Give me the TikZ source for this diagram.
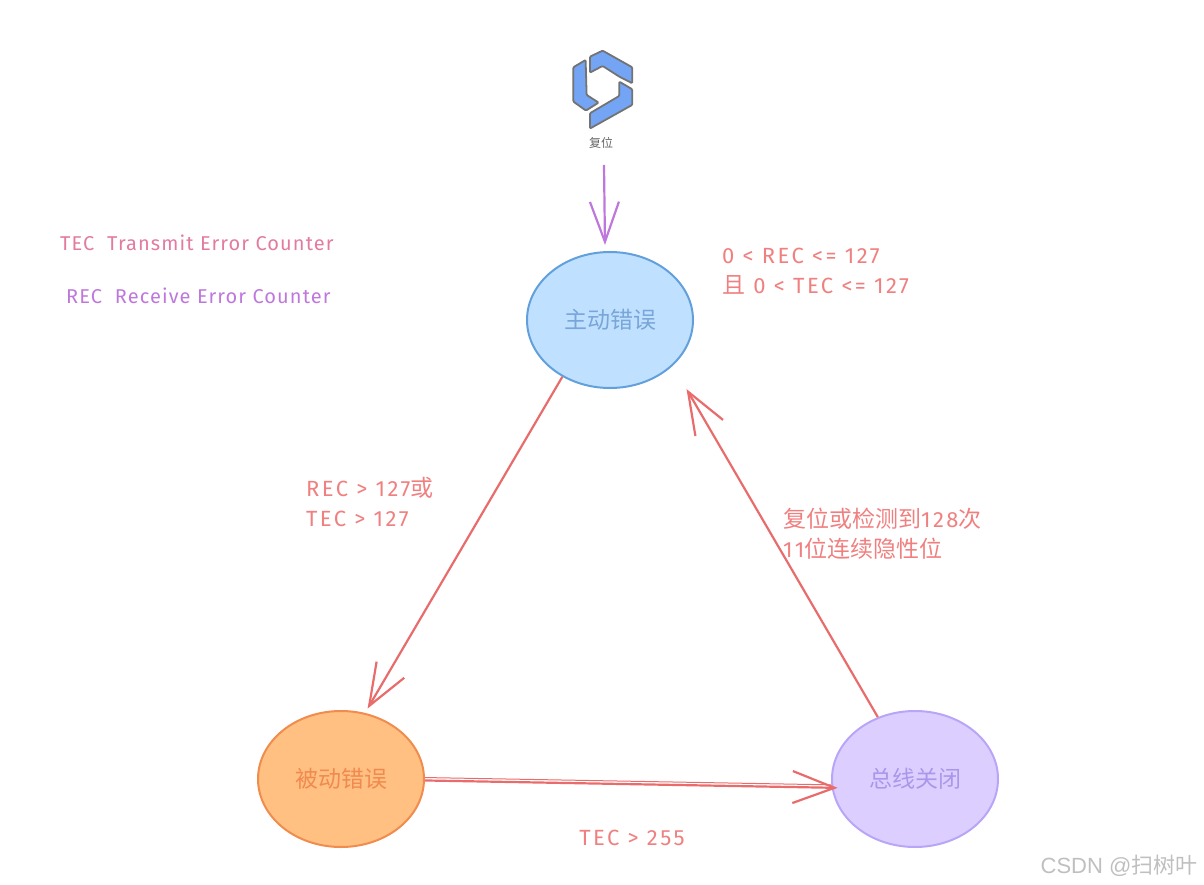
\documentclass[tikz,border=0pt]{standalone}
\usepackage{fontspec}
\usepackage{xcolor}
\setmainfont{Fira Sans}
\newfontfamily\cjk{Noto Sans CJK SC}
\newfontfamily\wmark{Liberation Sans}
\newfontfamily\hand[LetterSpace=11]{Fira Sans}
\newfontfamily\handkey[LetterSpace=5.5]{Fira Sans}
\newcommand{\zh}[1]{{\cjk\fontsize{23}{30}\selectfont #1}}
\definecolor{redline}{HTML}{E96C6C}
\definecolor{redtext}{HTML}{F08080}
\definecolor{pinktext}{HTML}{E27BA0}
\definecolor{purpleline}{HTML}{BE78DC}
\usetikzlibrary{shapes.geometric,arrows.meta}
\begin{document}
\begin{tikzpicture}[
	x=1pt, y=-1pt,
	state/.style={ ellipse, draw, line width=2pt, inner sep=0pt, minimum width=166pt, minimum height=136pt, font=\cjk\fontsize{23}{23}\selectfont },
	note/.style={ anchor=west, align=left, inner sep=0pt, text=redtext, font=\hand\fontsize{22}{30}\selectfont },
	keynote/.style={ anchor=west, inner sep=0pt, font=\handkey\fontsize{20}{20}\selectfont },
	link/.style={ redline, line width=2.2pt, -{Straight Barb[length=42pt,width=32pt,line width=2.2pt]} }
]

\path[use as bounding box] (0,0) rectangle (1204,885);

\node at (610,320) (active) [state,draw={rgb,255:red,98;green,160;blue,220},fill={rgb,255:red,192;green,224;blue,255},text={rgb,255:red,120;green,166;blue,216}] {主动错误};

\node at (341,779) (passive) [state,draw={rgb,255:red,240;green,140;blue,77},fill={rgb,255:red,255;green,192;blue,129},text={rgb,255:red,240;green,138;blue,80}] {被动错误};

\node at (915,779) (busoff) [state,draw={rgb,255:red,185;green,165;blue,247},fill={rgb,255:red,220;green,207;blue,255},text={rgb,255:red,171;green,151;blue,234}] {总线关闭};

\begin{scope}[shift={(540,30)},x=0.333pt,y=-0.333pt,draw=black!55,fill={rgb,255:red,116;green,164;blue,244},line width=1.8pt,line join=round,rounded corners=1pt]
\filldraw (137,90) -- (100,112) -- (100,215) -- (138,242) -- (176,218) -- (140,195) -- cycle;
\filldraw (150,80) -- (188,62) -- (277,112) -- (277,160) -- (238,140) -- (188,108) -- (150,128) -- cycle;
\filldraw (238,155) -- (277,178) -- (277,225) -- (150,296) -- (150,250) -- (238,198) -- cycle;
\end{scope}

\node at (601,143) (reset) [text=black!60,font=\cjk\fontsize{12}{12}\selectfont] {复位};

\coordinate (resetstart) at (604,165);
\coordinate (resettip) at (605,245);
\draw[purpleline,line width=2.2pt,-{Straight Barb[length=40pt,width=29pt,line width=2.2pt]}] (resetstart) to (resettip);

\draw[link,shorten >=5pt] (active.-130) to (passive.70);
\draw[link,shorten >=27pt] (busoff.121) to (active.-36);
\draw[link,shorten >=-6pt] (passive.-1) to (busoff.-174);
\draw[redline,line width=1pt] (passive.1) to (busoff.-176);

\node at (60,243) (tecnote) [keynote,text=pinktext] {TEC\ \ Transmit Error Counter};
\node at (66,296) (recnote) [keynote,text=purpleline] {REC\ \ Receive Error Counter};

\node at (722,271) (activenote) [note] {0 < REC <= 127\\\zh{且} 0 < TEC <= 127};
\node at (306,502) (passivenote) [note] {REC > 127\zh{或}\\TEC > 127};
\node at (783,534) (busoffnote) [note] {\zh{复位或检测到}128\zh{次}\\11\zh{位连续隐性位}};
\node at (632,838) (overrun) [text=redtext,font=\hand\fontsize{22}{22}\selectfont] {TEC > 255};

\node at (1119,866) (watermark) [text=black!25,font=\wmark\fontsize{22}{22}\selectfont] {CSDN @{\cjk 扫树叶}};

\end{tikzpicture}
\end{document}
